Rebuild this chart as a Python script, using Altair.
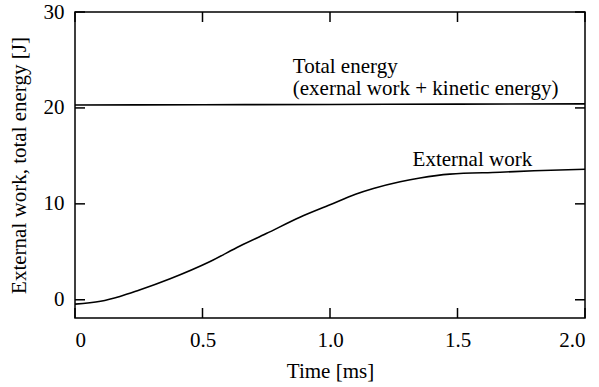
import altair as alt
import pandas as pd

# External work curve (time in ms, energy in J)
work_t = [0.0, 0.1, 0.176, 0.25, 0.373, 0.53, 0.647, 0.75, 0.882, 1.0, 1.1, 1.17, 1.275, 1.353, 1.47, 1.667, 1.8, 2.0]
work_e = [-0.45, -0.15, 0.35, 1.0, 2.2, 4.0, 5.6, 6.9, 8.6, 9.9, 11.0, 11.6, 12.3, 12.7, 13.1, 13.3, 13.45, 13.6]

# Total energy curve
total_t = [0.0, 0.5, 1.0, 1.5, 2.0]
total_e = [20.3, 20.33, 20.36, 20.4, 20.42]

x_ticks = [0.0, 0.5, 1.0, 1.5, 2.0]
y_ticks = [0, 10, 20, 30]

ann_text = ["Total energy", "(exernal work + kinetic energy)", "External work"]
ann_t = [0.854, 0.854, 1.324]
ann_e = [23.65, 21.35, 13.95]

W, H = 510, 306
FONT = "'Liberation Serif', 'DejaVu Serif', 'Times New Roman', serif"
FS = 21

xs = alt.Scale(domain=[0, 2.0], nice=False, zero=False)
ys = alt.Scale(domain=[-1.9, 30], nice=False, zero=False)

curves = pd.concat([
    pd.DataFrame({"t": work_t, "e": work_e, "s": "work"}),
    pd.DataFrame({"t": total_t, "e": total_e, "s": "total"}),
])

base = alt.Chart(curves).mark_line(color="black", strokeWidth=1.6, interpolate="monotone").encode(
    x=alt.X("t:Q", scale=xs, axis=alt.Axis(
        title="Time [ms]", values=x_ticks, format=".1f", labelExpr="datum.value == 0 ? '0' : datum.label",
        domain=False, ticks=False, tickSize=0, grid=False, labelPadding=11,
        labelFont=FONT, labelFontSize=FS, labelColor="black",
        titleFont=FONT, titleFontSize=FS, titleFontWeight="normal", titleColor="black",
        titleY=59, titleBaseline="alphabetic")),
    y=alt.Y("e:Q", scale=ys, axis=alt.Axis(
        title="External work, total energy [J]", values=y_ticks,
        domain=False, ticks=False, tickSize=0, grid=False, labelPadding=11,
        labelFont=FONT, labelFontSize=FS, labelColor="black",
        titleFont=FONT, titleFontSize=FS, titleFontWeight="normal", titleColor="black",
        titleX=-50, titleBaseline="alphabetic", titleAngle=-90)),
    detail="s:N",
)

xt = pd.DataFrame({"t": x_ticks})
yt = pd.DataFrame({"e": y_ticks})

bottom_ticks = alt.Chart(xt).mark_rule(color="black", strokeWidth=1.5).encode(
    x=alt.X("t:Q", scale=xs), y=alt.value(H), y2=alt.value(H - 10))
top_ticks = alt.Chart(xt).mark_rule(color="black", strokeWidth=1.5).encode(
    x=alt.X("t:Q", scale=xs), y=alt.value(0), y2=alt.value(10))
left_ticks = alt.Chart(yt).mark_rule(color="black", strokeWidth=1.5).encode(
    y=alt.Y("e:Q", scale=ys), x=alt.value(0), x2=alt.value(10))
right_ticks = alt.Chart(yt).mark_rule(color="black", strokeWidth=1.5).encode(
    y=alt.Y("e:Q", scale=ys), x=alt.value(W - 10), x2=alt.value(W))

ann = alt.Chart(pd.DataFrame({"txt": ann_text, "t": ann_t, "e": ann_e})).mark_text(
    align="left", baseline="alphabetic", font=FONT, fontSize=FS, color="black").encode(
    x=alt.X("t:Q", scale=xs), y=alt.Y("e:Q", scale=ys), text="txt:N")

chart = alt.layer(base, bottom_ticks, top_ticks, left_ticks, right_ticks, ann).properties(
    width=W, height=H,
    autosize=alt.AutoSizeParams(type="none"),
    padding={"left": 75, "top": 12, "right": 14, "bottom": 69},
    background="white",
).configure_view(stroke="black", strokeWidth=1.5)

chart.save("out.html", embed_options={"renderer": "svg", "actions": False})
